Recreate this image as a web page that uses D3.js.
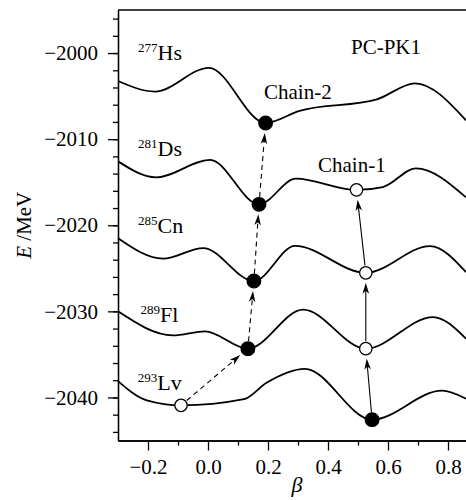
<!DOCTYPE html>
<html>
<head>
<meta charset="utf-8">
<script src="https://cdn.jsdelivr.net/npm/d3@7"></script>
<style>
body { margin: 0; background: #fff; }
svg text { font-family: "Liberation Serif", "Times New Roman", serif; fill: #000; }
</style>
</head>
<body>
<div id="chart"></div>
<script>
'use strict';

// potential energy curves E(beta) (extrema and a few shoulder points)
const hsBeta = [-0.30, -0.177, 0.003, 0.192, 0.305, 0.563, 0.69, 0.86];
const hsE    = [-2003.25, -2004.47, -2001.72, -2008.13, -2006.71, -2005.38, -2003.52, -2007.82];

const dsBeta = [-0.30, -0.173, 0.007, 0.17, 0.293, 0.495, 0.583, 0.693, 0.86];
const dsE    = [-2012.58, -2014.44, -2012.40, -2017.57, -2014.59, -2015.89, -2015.56, -2013.39, -2016.76];

const cnBeta = [-0.30, -0.15, -0.016, 0.153, 0.29, 0.526, 0.74, 0.86];
const cnE    = [-2021.52, -2023.88, -2022.65, -2026.48, -2022.39, -2025.53, -2022.42, -2025.44];

const flBeta = [-0.30, -0.117, -0.01, 0.133, 0.317, 0.526, 0.75, 0.86];
const flE    = [-2030.0, -2032.79, -2032.32, -2034.33, -2029.8, -2034.33, -2030.66, -2033.17];

const lvBeta = [-0.30, -0.204, -0.09, 0.12, 0.195, 0.323, 0.547, 0.78, 0.86];
const lvE    = [-2038.10, -2040.34, -2040.92, -2040.2, -2038.3, -2036.68, -2042.58, -2039.21, -2040.14];

// nucleus labels
const massNumbers = ["277", "281", "285", "289", "293"];
const elements    = ["Hs", "Ds", "Cn", "Fl", "Lv"];
const labelBeta   = [-0.233, -0.233, -0.233, -0.225, -0.234];
const labelE      = [-2000.85, -2011.9, -2020.95, -2031.25, -2039.1];

// decay chains: beta, energy, filled marker or not
const chain2Beta = [-0.09, 0.133, 0.153, 0.17, 0.192];
const chain2E    = [-2040.92, -2034.33, -2026.48, -2017.57, -2008.13];
const chain2Fill = [false, true, true, true, true];

const chain1Beta = [0.547, 0.526, 0.526, 0.495];
const chain1E    = [-2042.58, -2034.33, -2025.53, -2015.89];
const chain1Fill = [true, false, false, false];

// ticks
const yMajor = [-2040, -2030, -2020, -2010, -2000];
const yMinor = d3.range(-2044, -1995, 2);
const xMajor = [-0.2, 0.0, 0.2, 0.4, 0.6, 0.8];
const xMinor = [-0.1, 0.1, 0.3, 0.5, 0.7];

const width = 466, height = 500;
const svg = d3.select("#chart").append("svg")
    .attr("width", width)
    .attr("height", height);

const x = d3.scaleLinear().domain([-0.3, 0.86]).range([118, 466]);
const y = d3.scaleLinear().domain([-2045, -1995]).range([440.5, 10]);

// axes
const fmtY = d3.format("d");
const fmtX = d3.format(".1f");

svg.append("g")
    .attr("transform", "translate(118,0)")
    .call(d3.axisLeft(y).tickValues(yMinor).tickSize(5).tickSizeOuter(0).tickFormat(""));
svg.append("g")
    .attr("class", "yMajor")
    .attr("transform", "translate(118,0)")
    .call(d3.axisLeft(y).tickValues(yMajor).tickSize(10).tickPadding(10).tickSizeOuter(0).tickFormat(fmtY));

svg.append("g")
    .attr("transform", "translate(0,440.5)")
    .call(d3.axisBottom(x).tickValues(xMinor).tickSize(5).tickSizeOuter(0).tickFormat(""));
svg.append("g")
    .attr("class", "xMajor")
    .attr("transform", "translate(0,440.5)")
    .call(d3.axisBottom(x).tickValues(xMajor).tickSize(10).tickPadding(9).tickSizeOuter(0).tickFormat(fmtX));

svg.selectAll(".domain, .tick line").attr("stroke", "#000").attr("stroke-width", 1.3);
svg.selectAll(".tick text")
    .attr("font-family", "Liberation Serif, serif")
    .attr("font-size", 21)
    .attr("fill", "#000");

// top frame line
svg.append("line")
    .attr("x1", x(-0.3)).attr("x2", x(0.86))
    .attr("y1", y(-1995)).attr("y2", y(-1995))
    .attr("stroke", "#000").attr("stroke-width", 1.3);

// axis titles
const yTitle = svg.append("text")
    .attr("transform", "translate(31," + ((y(-1995) + y(-2045)) / 2) + ") rotate(-90)")
    .attr("text-anchor", "middle")
    .attr("font-size", 21);
yTitle.append("tspan").attr("font-style", "italic").text("E");
yTitle.append("tspan").text(" /MeV");

svg.append("text")
    .attr("x", 297).attr("y", 492)
    .attr("text-anchor", "middle")
    .attr("font-size", 22)
    .attr("font-style", "italic")
    .text("β");

// curves
const line = d3.line()
    .x(d => x(d[0]))
    .y(d => y(d[1]))
    .curve(d3.curveMonotoneX);

const curves = [[hsBeta, hsE], [dsBeta, dsE], [cnBeta, cnE], [flBeta, flE], [lvBeta, lvE]];
svg.append("g").selectAll("path")
    .data(curves)
    .enter()
    .append("path")
    .attr("d", c => line(d3.zip(c[0], c[1])))
    .attr("fill", "none")
    .attr("stroke", "#000")
    .attr("stroke-width", 1.8);

// nucleus labels with superscript mass numbers
elements.forEach((el, i) => {
    const t = svg.append("text")
        .attr("x", x(labelBeta[i]))
        .attr("y", y(labelE[i]))
        .attr("font-size", 22);
    t.append("tspan").attr("font-size", 13).attr("dy", -8).text(massNumbers[i]);
    t.append("tspan").attr("dy", 8).text(el);
});

svg.append("text").attr("x", 351).attr("y", 54).attr("font-size", 21).text("PC-PK1");
svg.append("text").attr("x", 264).attr("y", 99).attr("font-size", 21).text("Chain-2");
svg.append("text").attr("x", 318).attr("y", 172).attr("font-size", 21).text("Chain-1");

// arrows between successive chain states
function drawChain(betas, energies, fills, dashed) {
    const pts = betas.map((b, i) => [x(b), y(energies[i])]);
    const g = svg.append("g");
    for (let i = 0; i < pts.length - 1; i++) {
        const p0 = pts[i], p1 = pts[i + 1];
        const dx = p1[0] - p0[0], dy = p1[1] - p0[1];
        const len = Math.sqrt(dx * dx + dy * dy);
        const ux = dx / len, uy = dy / len;
        const sx = p0[0] + ux * 7.5, sy = p0[1] + uy * 7.5;
        const tx = p1[0] - ux * 10, ty = p1[1] - uy * 10;
        g.append("line")
            .attr("x1", sx).attr("y1", sy)
            .attr("x2", tx - ux * 7).attr("y2", ty - uy * 7)
            .attr("stroke", "#000")
            .attr("stroke-width", 1.1)
            .attr("stroke-dasharray", dashed ? "5,4" : null);
        const ang = Math.atan2(uy, ux) * 180 / Math.PI;
        g.append("path")
            .attr("d", "M0,0 L-11,-3.3 L-8,0 L-11,3.3 Z")
            .attr("transform", "translate(" + tx + "," + ty + ") rotate(" + ang + ")")
            .attr("fill", "#000");
    }
    g.selectAll("circle")
        .data(pts)
        .enter()
        .append("circle")
        .attr("cx", d => d[0])
        .attr("cy", d => d[1])
        .attr("r", (d, i) => fills[i] ? 6.8 : 6.2)
        .attr("fill", (d, i) => fills[i] ? "#000" : "#fff")
        .attr("stroke", "#000")
        .attr("stroke-width", 1.3);
}

drawChain(chain2Beta, chain2E, chain2Fill, true);
drawChain(chain1Beta, chain1E, chain1Fill, false);
</script>
</body>
</html>
